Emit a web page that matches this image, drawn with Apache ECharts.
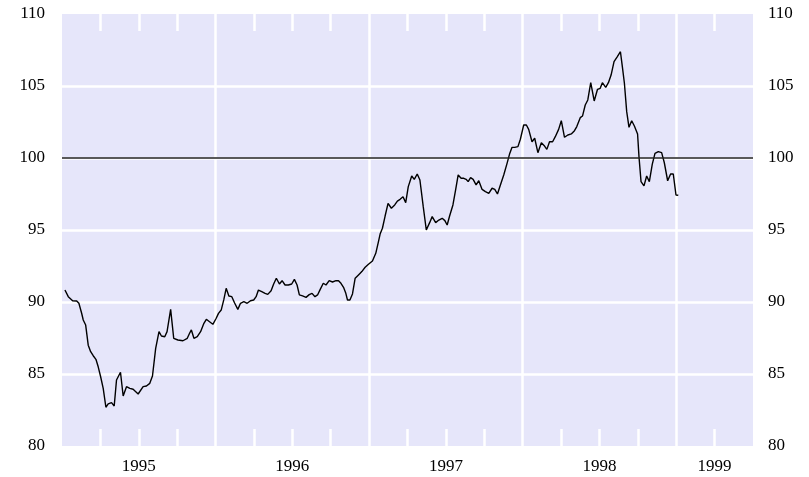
<!DOCTYPE html>
<html>
<head>
<meta charset="utf-8">
<script src="https://cdn.jsdelivr.net/npm/echarts@6/dist/echarts.min.js"></script>
<style>
  html, body { margin: 0; padding: 0; background: #fff; }
  #chart { width: 809px; height: 477px; }
</style>
</head>
<body>
<div id="chart"></div>
<script>
// months counted from Jan 1995 (0 = start of 1995)
var months = [
  0.23, 0.49, 0.83, 1.15, 1.32, 1.54, 1.66, 1.85, 2.05, 2.24, 2.44, 2.65, 2.83, 3.02, 3.22, 3.43,
  3.61, 3.87, 4.08, 4.26, 4.57, 4.78, 5.04, 5.30, 5.56, 5.95, 6.34, 6.60, 6.86, 7.07, 7.32, 7.58,
  7.77, 8.03, 8.21, 8.49, 8.73, 9.06, 9.45, 9.79, 9.97, 10.11, 10.31, 10.57, 10.83, 11.09, 11.28,
  11.53, 11.79, 12.05, 12.23, 12.44, 12.65, 12.83, 13.04, 13.27, 13.48, 13.74, 13.95, 14.21, 14.47,
  14.73, 14.98, 15.17, 15.35, 15.61, 15.87, 16.08, 16.34, 16.54, 16.75, 16.99, 17.20, 17.43, 17.69,
  17.95, 18.16, 18.37, 18.55, 18.80, 19.07, 19.32, 19.54, 19.77, 19.97, 20.18, 20.42, 20.63, 20.88,
  21.14, 21.41, 21.61, 21.80, 22.00, 22.18, 22.31, 22.50, 22.70, 22.91, 23.17, 23.43, 23.69, 23.95,
  24.26, 24.52, 24.70, 24.86, 25.04, 25.25, 25.48, 25.74, 26.00, 26.21, 26.42, 26.65, 26.86, 27.06,
  27.33, 27.53, 27.76, 27.97, 28.23, 28.47, 28.73, 28.93, 29.20, 29.45, 29.71, 29.92, 30.10, 30.29,
  30.55, 30.76, 30.96, 31.19, 31.40, 31.58, 31.74, 31.93, 32.13, 32.36, 32.57, 32.83, 33.09, 33.35,
  33.61, 33.82, 34.03, 34.26, 34.52, 34.78, 34.99, 35.17, 35.38, 35.63, 35.82, 36.08, 36.29, 36.47,
  36.73, 36.94, 37.19, 37.46, 37.71, 37.89, 38.10, 38.34, 38.55, 38.81, 39.02, 39.27, 39.53, 39.80,
  40.05, 40.23, 40.50, 40.68, 40.89, 41.09, 41.32, 41.59, 41.85, 42.06, 42.23, 42.49, 42.70, 42.91,
  43.14, 43.40, 43.64, 43.79, 43.95, 44.13, 44.31, 44.52, 44.73, 44.98, 45.09, 45.25, 45.48, 45.69,
  45.90, 46.13, 46.34, 46.60, 46.86, 47.07, 47.33, 47.56, 47.77, 47.98, 48.16
];
var values = [
  90.83, 90.37, 90.09, 90.07, 89.91, 89.2, 88.75, 88.4, 87.0, 86.55, 86.27, 86.02, 85.5, 84.81, 84.0, 82.69,
  82.92, 83.01, 82.78, 84.58, 85.12, 83.47, 84.12, 84.0, 83.94, 83.61, 84.12, 84.17, 84.35, 84.86, 86.78, 87.94,
  87.64, 87.59, 87.94, 89.49, 87.48, 87.36, 87.31, 87.48, 87.83, 88.06, 87.48, 87.59, 87.94, 88.52, 88.8,
  88.63, 88.45, 88.87, 89.21, 89.44, 90.18, 90.95, 90.42, 90.37, 89.95, 89.49, 89.91, 90.02, 89.91,
  90.09, 90.14, 90.37, 90.83, 90.72, 90.6, 90.53, 90.78, 91.25, 91.65, 91.25, 91.48, 91.18, 91.18,
  91.25, 91.57, 91.18, 90.49, 90.42, 90.32, 90.51, 90.6, 90.37, 90.49, 90.88, 91.3, 91.18, 91.48,
  91.39, 91.48, 91.48, 91.3, 91.02, 90.6, 90.14, 90.14, 90.56, 91.65, 91.88, 92.11, 92.41, 92.62,
  92.85, 93.38, 94.07, 94.72, 95.12, 95.97, 96.85, 96.51, 96.74, 97.01, 97.13, 97.31, 96.9, 98.01,
  98.75, 98.52, 98.89, 98.47, 96.62, 95.0, 95.51, 95.93, 95.51, 95.69, 95.81, 95.65, 95.35, 95.97,
  96.74, 97.78, 98.82, 98.59, 98.59, 98.52, 98.36, 98.64, 98.52, 98.13, 98.42, 97.82, 97.66, 97.55,
  97.9, 97.82, 97.5, 98.13, 98.82, 99.63, 100.32, 100.74, 100.74, 100.79, 101.3, 102.29, 102.29, 101.99,
  101.13, 101.37, 100.37, 101.06, 100.83, 100.6, 101.13, 101.13, 101.48, 101.99, 102.59, 101.44, 101.6, 101.67,
  101.9, 102.18, 102.8, 102.92, 103.68, 104.03, 105.23, 103.96, 104.77, 104.84, 105.23, 104.91, 105.23, 105.76,
  106.69, 107.04, 107.38, 106.34, 105.19, 103.22, 102.13, 102.59, 102.22, 101.67, 100.09, 98.36, 98.06, 98.75,
  98.36, 99.58, 100.32, 100.44, 100.37, 99.67, 98.42, 98.89, 98.89, 97.43, 97.41
];
var yearLabels = ['1995', '1996', '1997', '1998', '1999'];
var yearLabelPos = [6, 18, 30, 42, 51];
var quarterTicks = [3, 6, 9, 15, 18, 21, 27, 30, 33, 39, 42, 45, 51];
var refLevel = 100;

var seriesData = [];
months.forEach(function(m, i){
    seriesData.push([m, values[i]]);
});

var none = 'rgba(0,0,0,0)';
var labelFont = { fontFamily: '"Liberation Serif", "Times New Roman", serif', fontSize: 17, color: '#000' };

var tickAxis = function(pos){
    return {
        type: 'value', position: pos, min: 0, max: 54,
        axisLine: { show: false },
        axisTick: {
            show: true, inside: true, length: 17, customValues: quarterTicks,
            lineStyle: { color: '#fff', width: 2.5 }
        },
        axisLabel: pos == 'bottom' ? Object.assign({
            show: true, margin: 12, customValues: yearLabelPos,
            formatter: function(v){ return yearLabels[yearLabelPos.indexOf(v)] || ''; }
        }, labelFont) : { show: false },
        splitLine: { show: false }
    };
};

var chart = echarts.init(document.getElementById('chart'));
chart.setOption({
    animation: false,
    grid: {
        left: 62, right: 56, top: 14, bottom: 31,
        show: true, backgroundColor: '#e6e6fa', borderWidth: 0
    },
    xAxis: [
        tickAxis('bottom'),
        tickAxis('top'),
        {
            // year separators
            type: 'value', position: 'bottom', min: 0, max: 54, interval: 12,
            axisLine: { show: false }, axisTick: { show: false }, axisLabel: { show: false },
            splitLine: { show: true, lineStyle: { color: [none, '#fff', '#fff', '#fff', '#fff', none], width: 2.5 } }
        }
    ],
    yAxis: [
        {
            type: 'value', position: 'left', min: 80, max: 110, interval: 5,
            axisLine: { show: false }, axisTick: { show: false },
            axisLabel: Object.assign({ margin: 17 }, labelFont),
            splitLine: { show: true, lineStyle: { color: [none, '#fff', '#fff', '#fff', '#fff', '#fff', none], width: 2.5 } }
        },
        {
            type: 'value', position: 'right', min: 80, max: 110, interval: 5,
            axisLine: { show: false }, axisTick: { show: false },
            axisLabel: Object.assign({ margin: 15 }, labelFont),
            splitLine: { show: false }
        }
    ],
    series: [
        {
            type: 'line',
            xAxisIndex: 0, yAxisIndex: 0,
            data: seriesData,
            symbol: 'none',
            lineStyle: { color: '#000', width: 1.4 },
            markLine: {
                silent: true, symbol: ['none', 'none'], label: { show: false },
                lineStyle: { color: '#222', type: 'solid', width: 1.5 },
                data: [{ yAxis: refLevel }]
            }
        }
    ]
});
</script>
</body>
</html>
